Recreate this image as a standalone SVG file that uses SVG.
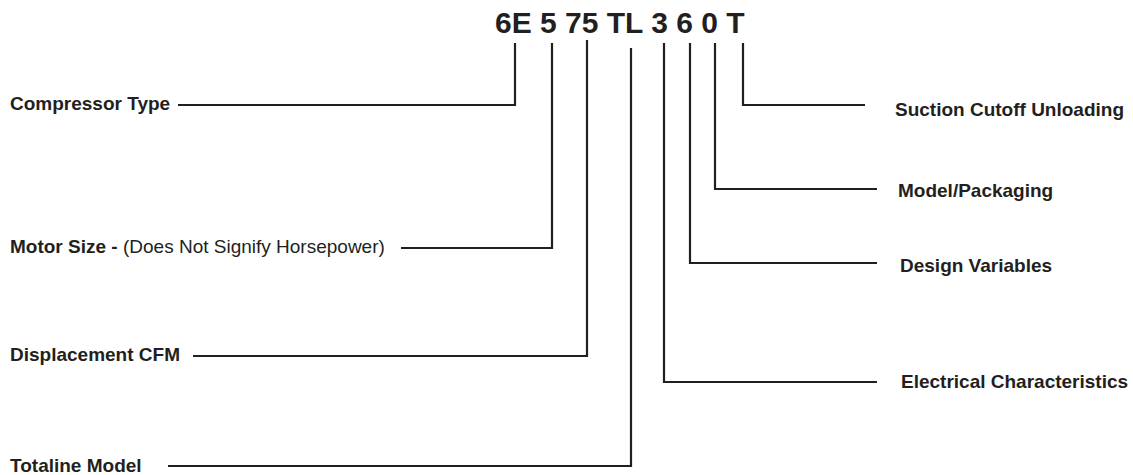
<svg xmlns="http://www.w3.org/2000/svg" width="1133" height="475" viewBox="0 0 1133 475">
<style>
.t{font-family:"Liberation Sans",Arial,sans-serif;font-size:19px;font-weight:bold;fill:#231f20}
.n{font-weight:normal}
.code{font-family:"Liberation Sans",Arial,sans-serif;font-size:30px;font-weight:bold;fill:#231f20}
.c{fill:none;stroke:#231f20;stroke-width:2.2}
</style>
<rect width="1133" height="475" fill="#fff"/>
<g id="code"><text class="code" x="495" y="33">6E 5 75 TL 3 6 0 T</text></g>
<g id="compressor-type"><text class="t" x="10" y="110">Compressor Type</text></g>
<g id="motor-size"><text class="t" x="10" y="253">Motor Size - <tspan class="n">(Does Not Signify Horsepower)</tspan></text></g>
<g id="displacement"><text class="t" x="10" y="361">Displacement CFM</text></g>
<g id="totaline"><text class="t" x="10" y="472">Totaline Model</text></g>
<g id="suction"><text class="t" x="895" y="116">Suction Cutoff Unloading</text></g>
<g id="model-packaging"><text class="t" x="898" y="197">Model/Packaging</text></g>
<g id="design-variables"><text class="t" x="900" y="272">Design Variables</text></g>
<g id="electrical"><text class="t" x="901" y="388">Electrical Characteristics</text></g>
<g id="connectors">
<polyline class="c" points="178,105 515,105 515,43"/>
<polyline class="c" points="401,248 552,248 552,43"/>
<polyline class="c" points="193,356 587,356 587,40"/>
<polyline class="c" points="168,466 631,466 631,48"/>
<polyline class="c" points="743,43 743,105 865,105"/>
<polyline class="c" points="715,43 715,189 877,189"/>
<polyline class="c" points="690,43 690,263 877,263"/>
<polyline class="c" points="664,43 664,382 877,382"/>
</g>
</svg>
